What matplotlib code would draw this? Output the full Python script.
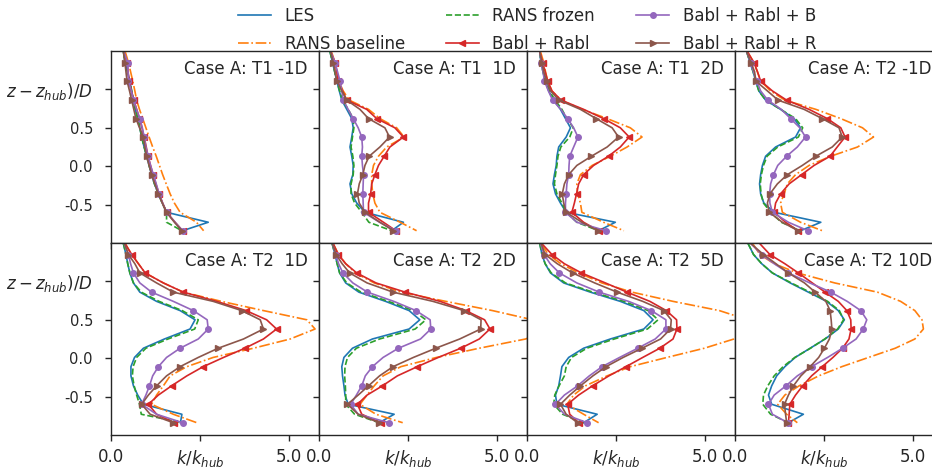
import matplotlib
matplotlib.use("Agg")
import matplotlib.pyplot as plt

# vertical sampling levels (z - z_hub)/D shared by all profiles
zlev = [1.49, 1.35, 1.23, 1.11, 0.98, 0.86, 0.74, 0.62, 0.50, 0.38,
        0.25, 0.13, 0.01, -0.11, -0.23, -0.36, -0.48, -0.60, -0.73, -0.84]

titles = ["Case A: T1 -1D", "Case A: T1  1D", "Case A: T1  2D", "Case A: T2 -1D",
          "Case A: T2  1D", "Case A: T2  2D", "Case A: T2  5D", "Case A: T2 10D"]

# k/k_hub, one row per panel (same order as titles)
les = [
    [0.35, 0.39, 0.46, 0.53, 0.58, 0.63, 0.68, 0.75, 0.81, 0.86, 0.93, 1.00, 1.07, 1.14, 1.22, 1.33, 1.44, 1.56, 2.73, 2.01],
    [0.31, 0.38, 0.44, 0.50, 0.57, 0.64, 0.78, 0.92, 0.96, 0.92, 0.87, 0.92, 0.96, 0.95, 0.87, 0.92, 1.06, 1.29, 2.37, 2.04],
    [0.36, 0.39, 0.45, 0.51, 0.61, 0.75, 0.94, 1.08, 1.22, 1.10, 0.89, 0.84, 0.82, 0.77, 0.73, 0.80, 0.94, 1.10, 2.48, 2.01],
    [0.33, 0.42, 0.51, 0.58, 0.67, 0.86, 1.28, 1.66, 1.84, 1.70, 1.14, 0.86, 0.77, 0.72, 0.69, 0.72, 0.81, 1.10, 2.41, 1.84],
    [0.35, 0.42, 0.47, 0.53, 0.63, 0.81, 1.28, 1.94, 2.36, 2.22, 1.50, 0.91, 0.66, 0.56, 0.56, 0.63, 0.75, 0.91, 1.99, 1.95],
    [0.37, 0.45, 0.51, 0.58, 0.75, 1.12, 1.87, 2.53, 2.83, 2.53, 1.50, 0.94, 0.70, 0.64, 0.66, 0.70, 0.73, 0.82, 2.11, 1.69],
    [0.36, 0.42, 0.51, 0.66, 1.03, 1.78, 2.62, 3.28, 3.54, 3.28, 2.34, 1.59, 1.17, 0.98, 0.94, 0.89, 0.80, 0.84, 1.97, 1.59],
    [0.37, 0.52, 0.75, 1.05, 1.55, 2.06, 2.57, 2.90, 3.07, 2.90, 2.53, 2.11, 1.69, 1.40, 1.17, 1.03, 0.94, 1.03, 1.92, 1.50],
]
rans_baseline = [
    [0.40, 0.49, 0.55, 0.61, 0.67, 0.72, 0.80, 0.89, 0.98, 1.07, 1.17, 1.27, 1.36, 1.45, 1.55, 1.66, 1.78, 1.94, 2.40, 2.60],
    [0.35, 0.45, 0.50, 0.55, 0.68, 0.85, 1.39, 1.71, 2.18, 2.39, 1.90, 1.67, 1.53, 1.48, 1.48, 1.51, 1.57, 1.71, 2.28, 2.74],
    [0.38, 0.47, 0.52, 0.58, 0.70, 0.95, 1.55, 2.25, 2.90, 3.23, 2.81, 2.34, 1.83, 1.50, 1.40, 1.42, 1.50, 1.54, 2.15, 2.72],
    [0.35, 0.53, 0.63, 0.72, 1.00, 1.40, 2.27, 2.97, 3.58, 3.89, 3.44, 2.69, 2.08, 1.70, 1.47, 1.38, 1.28, 1.33, 1.84, 2.45],
    [0.40, 0.58, 0.77, 0.96, 1.47, 2.03, 3.10, 4.28, 5.50, 5.73, 5.03, 4.00, 2.87, 2.13, 1.66, 1.47, 1.28, 1.14, 1.75, 2.41],
    [0.40, 0.55, 0.75, 1.02, 1.55, 2.30, 3.56, 4.87, 6.00, 6.50, 5.80, 4.50, 3.30, 2.30, 1.80, 1.55, 1.35, 1.15, 1.60, 2.35],
    [0.40, 0.60, 0.95, 1.45, 2.10, 2.95, 4.10, 5.40, 6.20, 6.50, 5.81, 4.98, 3.93, 2.90, 2.25, 1.64, 1.31, 1.12, 1.59, 2.01],
    [0.50, 0.70, 1.10, 1.75, 2.80, 4.00, 4.65, 5.05, 5.25, 5.29, 5.05, 4.50, 3.75, 3.00, 2.35, 1.80, 1.40, 1.20, 1.45, 1.75],
]
rans_frozen = [
    [0.35, 0.39, 0.46, 0.53, 0.58, 0.63, 0.68, 0.75, 0.81, 0.86, 0.93, 1.00, 1.07, 1.14, 1.22, 1.33, 1.44, 1.56, 1.56, 1.99],
    [0.31, 0.38, 0.44, 0.50, 0.58, 0.66, 0.82, 0.96, 0.98, 0.94, 0.90, 0.95, 0.98, 0.96, 0.90, 0.90, 1.00, 1.20, 1.40, 2.04],
    [0.36, 0.39, 0.45, 0.52, 0.63, 0.79, 0.98, 1.12, 1.30, 1.20, 0.95, 0.87, 0.84, 0.80, 0.77, 0.84, 0.98, 1.10, 1.40, 2.01],
    [0.33, 0.42, 0.51, 0.58, 0.67, 0.86, 1.28, 1.70, 1.90, 1.78, 1.20, 0.90, 0.80, 0.74, 0.71, 0.73, 0.80, 1.00, 1.30, 1.84],
    [0.35, 0.42, 0.47, 0.53, 0.63, 0.85, 1.35, 2.00, 2.45, 2.35, 1.60, 0.98, 0.72, 0.62, 0.60, 0.65, 0.72, 0.80, 0.85, 2.01],
    [0.37, 0.45, 0.51, 0.58, 0.78, 1.18, 1.95, 2.65, 3.00, 2.70, 1.70, 1.05, 0.80, 0.73, 0.72, 0.74, 0.75, 0.75, 1.00, 1.69],
    [0.36, 0.42, 0.51, 0.68, 1.08, 1.85, 2.72, 3.40, 3.68, 3.38, 2.45, 1.68, 1.25, 1.10, 1.05, 0.90, 0.78, 0.75, 1.00, 1.59],
    [0.37, 0.52, 0.75, 1.05, 1.58, 2.10, 2.60, 2.93, 3.05, 2.88, 2.52, 2.12, 1.68, 1.35, 1.10, 0.92, 0.80, 0.78, 1.00, 1.50],
]
babl_rabl = [
    [0.36, 0.45, 0.48, 0.51, 0.57, 0.64, 0.72, 0.80, 0.87, 0.93, 0.99, 1.04, 1.11, 1.18, 1.26, 1.35, 1.45, 1.56, 1.80, 2.01],
    [0.33, 0.45, 0.50, 0.54, 0.66, 0.78, 1.34, 1.62, 2.13, 2.37, 1.99, 1.83, 1.67, 1.57, 1.48, 1.45, 1.39, 1.39, 1.81, 2.16],
    [0.36, 0.44, 0.51, 0.58, 0.70, 0.96, 1.59, 2.15, 2.62, 2.87, 2.62, 2.29, 1.87, 1.59, 1.45, 1.39, 1.33, 1.26, 1.59, 2.01],
    [0.35, 0.53, 0.63, 0.72, 1.05, 1.45, 2.08, 2.59, 2.97, 3.09, 2.87, 2.67, 2.22, 1.87, 1.52, 1.28, 1.14, 1.10, 1.42, 1.77],
    [0.40, 0.58, 0.77, 0.96, 1.47, 2.03, 2.97, 3.79, 4.37, 4.65, 4.28, 3.76, 3.16, 2.59, 2.13, 1.70, 1.33, 1.05, 1.28, 1.77],
    [0.40, 0.54, 0.75, 1.06, 1.60, 2.42, 3.40, 4.12, 4.65, 4.80, 4.50, 3.98, 3.35, 2.76, 2.20, 1.78, 1.35, 1.08, 1.20, 1.73],
    [0.42, 0.70, 1.05, 1.53, 2.20, 2.81, 3.45, 3.91, 4.20, 4.21, 4.10, 3.73, 3.25, 2.78, 2.30, 1.84, 1.45, 1.14, 1.20, 1.45],
    [0.70, 0.98, 1.40, 1.78, 2.17, 2.53, 2.90, 3.14, 3.25, 3.26, 3.20, 3.02, 2.75, 2.45, 2.15, 1.90, 1.70, 1.54, 1.52, 1.50],
]
babl_rabl_b = [
    [0.36, 0.47, 0.48, 0.49, 0.57, 0.63, 0.72, 0.81, 0.88, 0.93, 0.98, 1.04, 1.11, 1.19, 1.27, 1.35, 1.45, 1.56, 1.80, 2.01],
    [0.33, 0.45, 0.52, 0.59, 0.64, 0.68, 0.82, 0.96, 1.10, 1.20, 1.22, 1.20, 1.22, 1.25, 1.24, 1.23, 1.24, 1.25, 1.70, 2.16],
    [0.36, 0.40, 0.45, 0.49, 0.60, 0.72, 0.95, 1.14, 1.31, 1.43, 1.31, 1.20, 1.18, 1.17, 1.12, 1.10, 1.08, 1.08, 1.40, 2.22],
    [0.33, 0.44, 0.52, 0.61, 0.72, 0.92, 1.30, 1.56, 1.82, 1.98, 1.75, 1.45, 1.20, 1.08, 1.00, 0.97, 0.98, 1.05, 1.50, 2.05],
    [0.37, 0.49, 0.55, 0.63, 0.81, 1.14, 1.75, 2.31, 2.70, 2.73, 2.45, 1.94, 1.56, 1.33, 1.17, 1.08, 0.98, 0.86, 1.28, 2.01],
    [0.38, 0.47, 0.55, 0.67, 0.95, 1.36, 2.10, 2.72, 3.12, 3.14, 2.85, 2.23, 1.80, 1.50, 1.30, 1.20, 1.05, 0.89, 1.10, 1.97],
    [0.38, 0.48, 0.65, 0.91, 1.40, 2.03, 2.85, 3.49, 3.90, 3.90, 3.60, 3.11, 2.60, 2.11, 1.75, 1.42, 1.05, 0.80, 1.05, 1.69],
    [0.45, 0.75, 1.10, 1.50, 2.10, 2.69, 3.15, 3.53, 3.70, 3.60, 3.40, 3.02, 2.60, 2.15, 1.75, 1.43, 1.10, 0.94, 1.05, 1.48],
]
babl_rabl_r = [
    [0.35, 0.39, 0.42, 0.45, 0.52, 0.58, 0.64, 0.70, 0.80, 0.91, 0.95, 1.00, 1.07, 1.14, 1.23, 1.33, 1.44, 1.56, 1.78, 1.99],
    [0.33, 0.40, 0.45, 0.50, 0.64, 0.78, 1.15, 1.39, 1.85, 1.98, 1.71, 1.41, 1.29, 1.23, 1.13, 1.08, 1.13, 1.29, 1.71, 2.09],
    [0.36, 0.42, 0.47, 0.55, 0.66, 0.90, 1.50, 1.94, 2.39, 2.57, 2.25, 1.81, 1.40, 1.17, 1.05, 0.99, 1.03, 1.10, 1.54, 1.99],
    [0.33, 0.45, 0.55, 0.58, 0.91, 1.21, 1.94, 2.45, 2.92, 3.01, 2.73, 2.27, 1.89, 1.47, 1.19, 0.98, 0.91, 0.96, 1.33, 1.77],
    [0.38, 0.49, 0.67, 0.81, 1.28, 1.75, 2.87, 3.67, 4.19, 4.28, 3.72, 3.01, 2.45, 1.94, 1.56, 1.28, 1.05, 0.86, 1.10, 1.75],
    [0.38, 0.48, 0.65, 0.86, 1.35, 2.08, 3.20, 4.07, 4.55, 4.54, 3.95, 3.28, 2.65, 2.08, 1.70, 1.39, 1.10, 0.80, 1.10, 1.69],
    [0.40, 0.51, 0.85, 1.28, 1.90, 2.53, 3.25, 3.84, 4.05, 4.03, 3.75, 3.23, 2.70, 2.22, 1.85, 1.50, 1.20, 0.94, 1.10, 1.42],
    [0.45, 0.80, 1.15, 1.50, 1.95, 2.25, 2.55, 2.67, 2.70, 2.72, 2.65, 2.51, 2.35, 2.11, 1.85, 1.64, 1.50, 1.39, 1.42, 1.45],
]

series = [
    ("LES", les, dict(color="C0", ls="-")),
    ("RANS baseline", rans_baseline, dict(color="C1", ls="-.")),
    ("RANS frozen", rans_frozen, dict(color="C2", ls="--")),
    ("Babl + Rabl", babl_rabl, dict(color="C3", ls="-", marker="<")),
    ("Babl + Rabl + B", babl_rabl_b, dict(color="C4", ls="-", marker="o")),
    ("Babl + Rabl + R", babl_rabl_r, dict(color="C5", ls="-", marker=">")),
]

plt.rcParams["font.family"] = "DejaVu Sans"
plt.rcParams["font.size"] = 12
plt.rcParams["text.color"] = ".15"
plt.rcParams["axes.edgecolor"] = ".15"
plt.rcParams["axes.linewidth"] = 1.0
plt.rcParams["xtick.color"] = ".15"
plt.rcParams["ytick.color"] = ".15"

fig = plt.figure(figsize=(9.32, 4.69), dpi=100)
W, H = 932, 469
ax_w, ax_h = 208 / W, 192 / H

for i, title in enumerate(titles):
    row, col = divmod(i, 4)
    left = (111 + 208 * col) / W
    bottom = (1 - 435 / H) + (1 - row) * ax_h
    ax = fig.add_axes([left, bottom, ax_w, ax_h])
    for name, data, style in series:
        ax.plot(data[i], zlev, label=name, lw=1.2, markersize=4,
                markevery=(1, 2), **style)
    ax.set_xlim(0, 5.84)
    ax.set_ylim(-1.0, 1.5)
    ax.set_xticks([0, 2.5, 5.0])
    ax.set_yticks([-0.5, 0.0, 0.5, 1.0])
    ax.tick_params(direction="out", length=4.5, width=1.0)
    ax.tick_params(axis="x", labelsize=12, pad=5)
    ax.tick_params(axis="y", labelsize=10.5, pad=8.5)
    if row == 1:
        ax.set_xticklabels(["0.0", "$k/k_{hub}$", "5.0"])
    else:
        ax.set_xticklabels([])
    if col == 0:
        # the source figure's axis label has no opening bracket
        ylabels = ax.set_yticklabels(["-0.5", "0.0", "0.5", "$z-z_{hub})/D$"])
        ylabels[-1].set_fontsize(12)
    else:
        ax.set_yticklabels([])
    ax.text(0.947, 0.905, title, transform=ax.transAxes, ha="right", va="center")
    if i == 0:
        handles, labels = ax.get_legend_handles_labels()

fig.legend(handles, labels, loc="upper center", bbox_to_anchor=(527 / W, 1.0),
           ncol=3, frameon=False, fontsize=12, labelspacing=0.62,
           columnspacing=2.45, borderaxespad=0)

fig.savefig("out.png", dpi=100)
